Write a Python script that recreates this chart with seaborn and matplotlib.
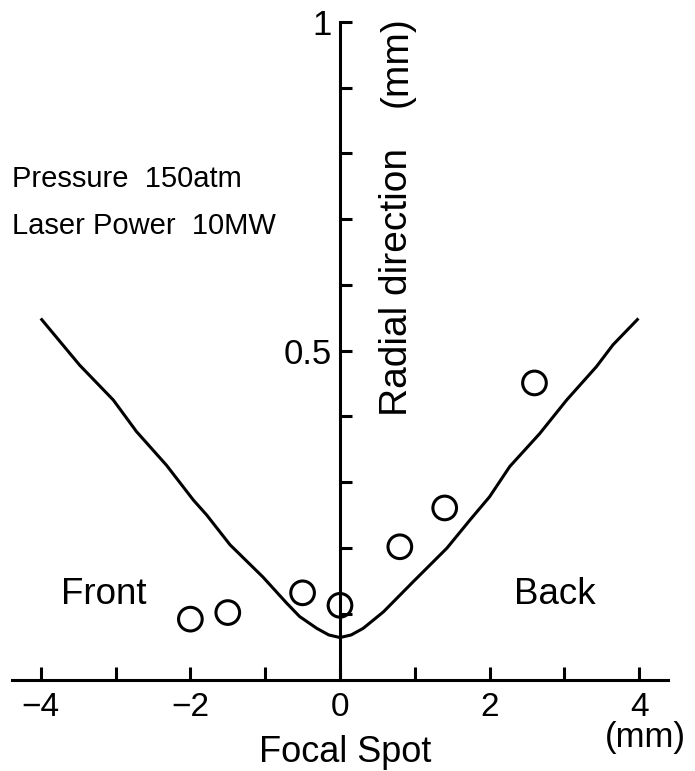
import matplotlib
matplotlib.use("Agg")
import matplotlib.pyplot as plt
import seaborn as sns
import pandas as pd
from matplotlib.ticker import FixedLocator, FuncFormatter

# Calculated beam profile (radial extent vs. distance from focal spot, mm)
curve_x = [-4.0, -3.48, -3.03, -2.72, -2.32, -1.96, -1.78, -1.47, -1.03, -0.71, -0.54,
           -0.31, -0.15, 0.0, 0.15, 0.31, 0.58, 0.98, 1.43, 1.74, 2.0, 2.27, 2.67,
           3.03, 3.43, 3.65, 3.99]
curve_y = [0.549, 0.478, 0.425, 0.377, 0.326, 0.273, 0.250, 0.205, 0.156, 0.116, 0.096,
           0.078, 0.068, 0.064, 0.068, 0.078, 0.103, 0.149, 0.200, 0.243, 0.278, 0.324,
           0.374, 0.425, 0.476, 0.509, 0.549]

# Measured plasma radius
spot_x = [-2.0, -1.5, -0.5, 0.0, 0.8, 1.4, 2.6]
spot_y = [0.092, 0.102, 0.132, 0.113, 0.202, 0.261, 0.451]

x_ticks = [-4, -3, -2, -1, 0, 1, 2, 3, 4]
x_tick_labels = {-4: "\u22124", -2: "\u22122", 0: "0", 2: "2", 4: "4"}
y_ticks = [0.1, 0.2, 0.3, 0.4, 0.5, 0.6, 0.7, 0.8, 0.9, 1.0]
y_tick_labels = {0.5: "0.5", 1.0: "1"}

sns.set_theme(style="white")
plt.rcParams["font.family"] = ["Liberation Sans", "DejaVu Sans"]
plt.rcParams["text.color"] = "black"

curve_df = pd.DataFrame({"z": curve_x, "r": curve_y})
spot_df = pd.DataFrame({"z": spot_x, "r": spot_y})

fig = plt.figure(figsize=(6.95, 7.71), dpi=100)
ax = fig.add_axes([0, 0, 1, 1])
ax.set_facecolor("white")

sns.lineplot(data=curve_df, x="z", y="r", ax=ax, color="black", linewidth=2.2,
             estimator=None, sort=False, solid_joinstyle="round", solid_capstyle="butt")
sns.scatterplot(data=spot_df, x="z", y="r", ax=ax, s=290, facecolor="none",
                edgecolor="black", linewidth=2.2)

ax.set_xlim(-4.545, 4.746)
ax.set_ylim(-0.1388, 1.033)

# Cross-shaped axes through the origin
for side in ("top", "right"):
    ax.spines[side].set_visible(False)
ax.spines["left"].set_position(("data", 0))
ax.spines["bottom"].set_position(("data", 0))
ax.spines["left"].set_bounds(0, 1.0)
ax.spines["bottom"].set_bounds(-4.39, 4.39)
for side in ("left", "bottom"):
    ax.spines[side].set_linewidth(2.2)
    ax.spines[side].set_color("black")
    ax.spines[side].set_zorder(3)

ax.xaxis.set_major_locator(FixedLocator(x_ticks))
ax.xaxis.set_major_formatter(FuncFormatter(lambda v, p: x_tick_labels.get(int(round(v)), "")))
ax.yaxis.set_major_locator(FixedLocator(y_ticks))
ax.yaxis.set_major_formatter(FuncFormatter(lambda v, p: y_tick_labels.get(round(v, 1), "")))

ax.tick_params(axis="x", direction="in", length=9.5, width=2.2, colors="black",
               labelsize=24, pad=9, bottom=True)
ax.tick_params(axis="y", direction="in", length=8.5, width=2.2, colors="black",
               labelsize=25, pad=6, left=True)
ax.set_xlabel("")
ax.set_ylabel("")

# Axis titles and annotations
ax.text(0.067, -0.110, "Focal Spot", fontsize=26, color="black", ha="center", va="center")
ax.text(4.08, -0.0886, "(mm)", fontsize=25, color="black", ha="center", va="center")
ax.text(0.762, 0.604, "Radial direction", fontsize=28, color="black", rotation=90,
        ha="center", va="center")
ax.text(0.762, 0.939, "(mm)", fontsize=28, color="black", rotation=90,
        ha="center", va="center")
ax.text(-3.155, 0.129, "Front", fontsize=26.5, color="black", ha="center", va="center")
ax.text(2.874, 0.129, "Back", fontsize=26.5, color="black", ha="center", va="center")
ax.text(-4.385, 0.749, "Pressure  150atm", fontsize=21, color="black",
        ha="left", va="baseline")
ax.text(-4.385, 0.678, "Laser Power  10MW", fontsize=21, color="black",
        ha="left", va="baseline")

fig.savefig("out.png", dpi=100, facecolor="white")
